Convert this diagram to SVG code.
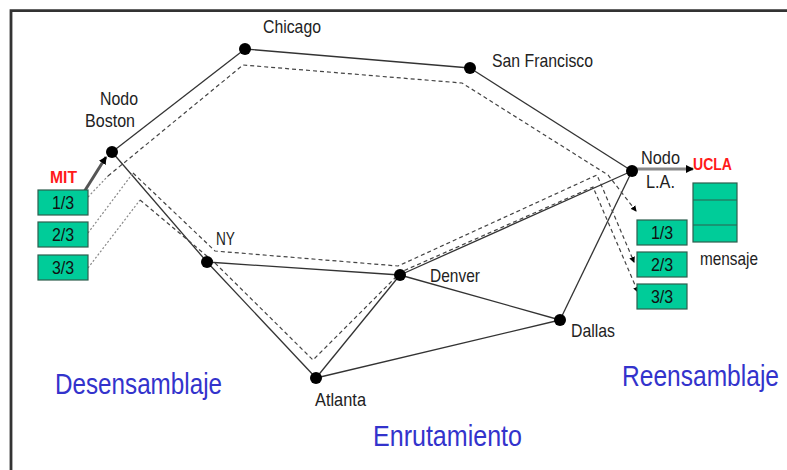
<svg xmlns="http://www.w3.org/2000/svg" width="787" height="470" viewBox="0 0 787 470">
<style>
.lbl{font-family:"Liberation Sans",Arial,sans-serif;font-size:16px;fill:#222}
.red{font-family:"Liberation Sans",Arial,sans-serif;font-size:14px;font-weight:bold;fill:#ff1a1a}
.big{font-family:"Liberation Sans",Arial,sans-serif;font-size:24px;fill:#3333cc}
.pk{fill:#00cc99;stroke:#2e5e4e;stroke-width:1.2}
.pt{font-family:"Liberation Sans",Arial,sans-serif;font-size:16px;fill:#111;text-anchor:middle}
.link{stroke:#333;stroke-width:1.3;fill:none}
.dash{stroke:#444;stroke-width:1.2;fill:none;stroke-dasharray:4 3}
.dot{stroke:#888;stroke-width:1.2;fill:none;stroke-dasharray:2 2}
.node{fill:#000}
</style>
<defs>
<marker id="ah" markerWidth="8" markerHeight="8" refX="7" refY="4" orient="auto" markerUnits="userSpaceOnUse">
<path d="M0,0 L8,4 L0,8 z" fill="#000"/>
</marker>
<marker id="sh" markerWidth="6" markerHeight="6" refX="5" refY="3" orient="auto" markerUnits="userSpaceOnUse">
<path d="M0,0 L6,3 L0,6 z" fill="#000"/>
</marker>
</defs>
<rect width="787" height="470" fill="#fff"/>
<path d="M11,470 V10.7 H787" fill="none" stroke="#333" stroke-width="2.8"/>

<g id="connectors">
<line class="link" x1="112" y1="152" x2="245" y2="49"/>
<line class="link" x1="245" y1="49" x2="470" y2="68"/>
<line class="link" x1="470" y1="68" x2="632" y2="171"/>
<line class="link" x1="112" y1="152" x2="207" y2="262"/>
<line class="link" x1="207" y1="262" x2="400" y2="275"/>
<line class="link" x1="207" y1="262" x2="316" y2="378"/>
<line class="link" x1="316" y1="378" x2="400" y2="275"/>
<line class="link" x1="400" y1="275" x2="632" y2="171"/>
<line class="link" x1="400" y1="275" x2="560" y2="320"/>
<line class="link" x1="316" y1="378" x2="560" y2="320"/>
<line class="link" x1="560" y1="320" x2="632" y2="171"/>
<polyline class="dot" points="88,197 108,176"/>
<polyline class="dash" points="108,176 243,65 462,83 608,175 636,211" marker-end="url(#sh)"/>
<polyline class="dot" points="88,233 133,173"/>
<polyline class="dash" points="133,173 215,251 398,266 597,175 634,262" marker-end="url(#sh)"/>
<polyline class="dot" points="88,268 140,200"/>
<polyline class="dash" points="140,200 214,262 313,360 401,272 593,187 638,292" marker-end="url(#sh)"/>
<line x1="84" y1="192" x2="106" y2="157" stroke="#555" stroke-width="3" marker-end="url(#ah)"/>
<line x1="632" y1="169" x2="693" y2="169" stroke="#888" stroke-width="3" marker-end="url(#ah)"/>
</g>

<g id="boston"><circle class="node" cx="112" cy="152" r="6"/><text class="lbl" transform="translate(100,105) scale(1,1.15)" textLength="38" lengthAdjust="spacingAndGlyphs">Nodo</text><text class="lbl" transform="translate(85,127) scale(1,1.15)" textLength="50" lengthAdjust="spacingAndGlyphs">Boston</text></g>
<g id="chicago"><circle class="node" cx="245" cy="49" r="6"/><text class="lbl" transform="translate(263,33) scale(1,1.15)" textLength="58" lengthAdjust="spacingAndGlyphs">Chicago</text></g>
<g id="sanfrancisco"><circle class="node" cx="470" cy="68" r="6"/><text class="lbl" transform="translate(492,67) scale(1,1.15)" textLength="101" lengthAdjust="spacingAndGlyphs">San Francisco</text></g>
<g id="la"><circle class="node" cx="632" cy="171" r="6"/><text class="lbl" transform="translate(641,164) scale(1,1.15)" textLength="39" lengthAdjust="spacingAndGlyphs">Nodo</text><text class="lbl" transform="translate(646,188) scale(1,1.15)" textLength="29" lengthAdjust="spacingAndGlyphs">L.A.</text></g>
<g id="ny"><circle class="node" cx="207" cy="262" r="6"/><text class="lbl" transform="translate(216,245) scale(1,1.15)" textLength="19" lengthAdjust="spacingAndGlyphs">NY</text></g>
<g id="denver"><circle class="node" cx="400" cy="275" r="6"/><text class="lbl" transform="translate(430,282) scale(1,1.15)" textLength="50" lengthAdjust="spacingAndGlyphs">Denver</text></g>
<g id="dallas"><circle class="node" cx="560" cy="320" r="6"/><text class="lbl" transform="translate(571,337) scale(1,1.15)" textLength="44" lengthAdjust="spacingAndGlyphs">Dallas</text></g>
<g id="atlanta"><circle class="node" cx="316" cy="378" r="6"/><text class="lbl" transform="translate(315,406) scale(1,1.15)" textLength="51" lengthAdjust="spacingAndGlyphs">Atlanta</text></g>

<g id="mit"><text class="red" transform="translate(50,183) scale(1,1.15)" textLength="27" lengthAdjust="spacingAndGlyphs">MIT</text></g>
<g id="src-packets">
<rect class="pk" x="38" y="190" width="50" height="25"/><text class="pt" transform="translate(63,209) scale(1,1.15)">1/3</text>
<rect class="pk" x="38" y="222" width="50" height="25"/><text class="pt" transform="translate(63,241) scale(1,1.15)">2/3</text>
<rect class="pk" x="38" y="255" width="50" height="25"/><text class="pt" transform="translate(63,274) scale(1,1.15)">3/3</text>
</g>
<g id="ucla"><text class="red" transform="translate(693,170) scale(1,1.15)" textLength="39" lengthAdjust="spacingAndGlyphs">UCLA</text></g>
<g id="dst-packets">
<rect class="pk" x="637" y="220" width="50" height="25"/><text class="pt" transform="translate(662,239) scale(1,1.15)">1/3</text>
<rect class="pk" x="637" y="252" width="50" height="25"/><text class="pt" transform="translate(662,271) scale(1,1.15)">2/3</text>
<rect class="pk" x="637" y="284" width="50" height="25"/><text class="pt" transform="translate(662,303) scale(1,1.15)">3/3</text>
</g>
<g id="mensaje">
<rect class="pk" x="693" y="183" width="44" height="59"/>
<line x1="693" y1="200" x2="737" y2="200" stroke="#2e5e4e" stroke-width="1.2"/>
<line x1="693" y1="225" x2="737" y2="225" stroke="#2e5e4e" stroke-width="1.2"/>
<text class="lbl" transform="translate(700,265) scale(1,1.15)" textLength="58" lengthAdjust="spacingAndGlyphs">mensaje</text>
</g>
<g id="titles">
<text class="big" transform="translate(55,394) scale(1,1.2)" textLength="167" lengthAdjust="spacingAndGlyphs">Desensamblaje</text>
<text class="big" transform="translate(622,386) scale(1,1.2)" textLength="157" lengthAdjust="spacingAndGlyphs">Reensamblaje</text>
<text class="big" transform="translate(373,446) scale(1,1.2)" textLength="149" lengthAdjust="spacingAndGlyphs">Enrutamiento</text>
</g>
</svg>
